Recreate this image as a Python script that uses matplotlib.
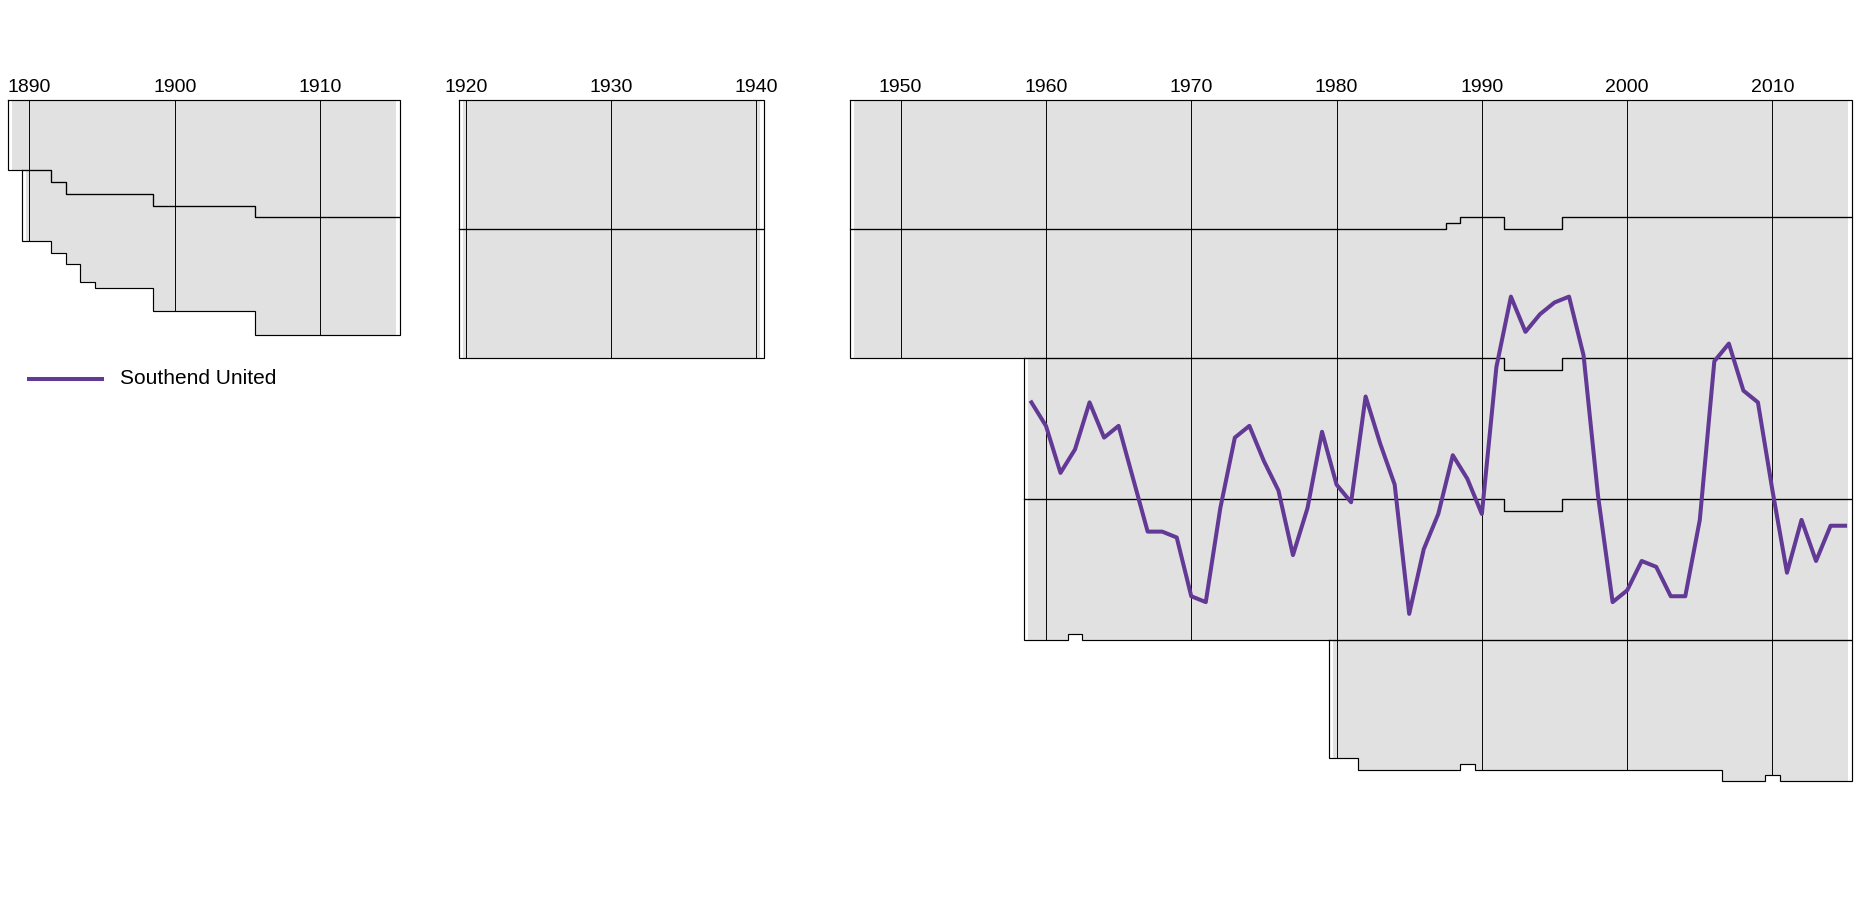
import matplotlib
matplotlib.use("Agg")
import matplotlib.pyplot as plt
from matplotlib.lines import Line2D

plt.rcParams['font.family'] = ['Liberation Sans', 'DejaVu Sans']

W, H = 1864, 901
DPI = 100

# ---------------- data ----------------
# Division sizes as runs: (first season-end year, last season-end year, clubs)
P1_DIV1 = [(1889, 1891, 12), (1892, 1892, 14), (1893, 1898, 16), (1899, 1905, 18), (1906, 1915, 20)]
P1_DIV2 = [(1890, 1893, 12), (1894, 1894, 15), (1895, 1898, 16), (1899, 1905, 18), (1906, 1915, 20)]

P2_DIV1 = [(1920, 1940, 22)]
P2_DIV2 = [(1920, 1940, 22)]

P3_DIV1 = [(1947, 1987, 22), (1988, 1988, 21), (1989, 1991, 20), (1992, 1995, 22), (1996, 2015, 20)]
P3_DIV2 = [(1947, 1987, 22), (1988, 1988, 23), (1989, 2015, 24)]
P3_DIV3 = [(1959, 2015, 24)]
P3_DIV4 = [(1959, 1961, 24), (1962, 1962, 23), (1963, 1991, 24), (1992, 1995, 22), (1996, 2015, 24)]
P3_CONF = [(1980, 1981, 20), (1982, 1988, 22), (1989, 1989, 21), (1990, 2006, 22),
           (2007, 2009, 24), (2010, 2010, 23), (2011, 2015, 24)]

P1_TICKS = [1890, 1900, 1910]
P2_TICKS = [1920, 1930, 1940]
P3_TICKS = [1950, 1960, 1970, 1980, 1990, 2000, 2010]

TEAM = "Southend United"
TEAM_YEARS = list(range(1959, 2016))
TEAM_POS = [52, 56, 64, 60, 52, 58, 56, 65, 74, 74,
            75, 85, 86, 70, 58, 56, 62, 67, 78, 70,
            57, 66, 69, 51, 59, 66, 88, 77, 71, 61,
            65, 71, 46, 34, 40, 37, 35, 34, 44, 68,
            86, 84, 79, 80, 85, 85, 72, 45, 42, 50,
            52, 67, 81, 72, 79, 73, 73]

# ---------------- style ----------------
GRAY = '#E1E1E1'
PURPLE = '#633996'
LINE_LW = 0.85
FS_TICK = 14
FS_LEG = 15

# vertical mapping (pixels from top): position 0.5 at y=99.8 px, 5.875 px per position
PX_PER_POS = 5.875
TOP_PX = 99.8
Y_TOP = 0.5 - TOP_PX / PX_PER_POS
Y_BOT = 0.5 + (H - TOP_PX) / PX_PER_POS
PX_PER_YEAR = 14.53

fig = plt.figure(figsize=(W / DPI, H / DPI), dpi=DPI)
fig.patch.set_facecolor('white')


def expand(runs):
    d = {}
    for a, b, n in runs:
        for y in range(a, b + 1):
            d[y] = n
    return d


def step_arrays(yrs, tops, bots, pad):
    xs, ts, bs = [], [], []
    n = len(yrs)
    for i, y in enumerate(yrs):
        left = y - 0.5 if i > 0 else y - pad
        right = y + 0.5 if i < n - 1 else y + pad
        xs += [left, right]
        ts += [tops[i], tops[i]]
        bs += [bots[i], bots[i]]
    return xs, ts, bs


def make_panel(x0_px, yr0, yr1, divs, ticks):
    width_px = (yr1 - yr0) * PX_PER_YEAR
    ax = fig.add_axes([x0_px / W, 0, width_px / W, 1])
    ax.set_xlim(yr0, yr1)
    ax.set_ylim(Y_BOT, Y_TOP)
    ax.axis('off')
    dicts = [expand(r) for r in divs]

    def above(k, y):
        return sum(dicts[j].get(y, 0) for j in range(k))

    for k, d in enumerate(dicts):
        yrs = sorted(d)
        tops = [above(k, y) + 0.5 for y in yrs]
        bots = [above(k, y) + d[y] + 0.5 for y in yrs]
        # gray mass of club lines
        xs, ts, bs = step_arrays(yrs, tops, bots, 0.22)
        ax.fill_between(xs, ts, bs, color=GRAY, lw=0, zorder=1, clip_on=False)
        # outline
        xs, ts, bs = step_arrays(yrs, tops, bots, 0.5)
        px = xs + xs[::-1] + [xs[0]]
        py = ts + bs[::-1] + [ts[0]]
        ax.plot(px, py, color='black', lw=LINE_LW, zorder=3, clip_on=False,
                solid_joinstyle='miter')

    for t in ticks:
        total = sum(d.get(t, 0) for d in dicts)
        ax.plot([t, t], [0.5, total + 0.5], color='black', lw=LINE_LW * 0.8,
                zorder=3, clip_on=False)
        ax.text(t, -0.88, str(t), ha='center', va='baseline', fontsize=FS_TICK,
                color='black')
    return ax


ax1 = make_panel(7.7, 1888.5, 1915.5, [P1_DIV1, P1_DIV2], P1_TICKS)
ax2 = make_panel(458.5, 1919.5, 1940.5, [P2_DIV1, P2_DIV2], P2_TICKS)
ax3 = make_panel(849.8, 1946.5, 2015.5, [P3_DIV1, P3_DIV2, P3_DIV3, P3_DIV4, P3_CONF], P3_TICKS)

ax3.plot(TEAM_YEARS, TEAM_POS, color=PURPLE, lw=2.9, zorder=5, clip_on=False)

# legend
ly = 1 - 379 / H
fig.add_artist(Line2D([29 / W, 102 / W], [ly, ly], color=PURPLE, lw=2.9))
fig.text(120 / W, ly, TEAM, ha='left', va='center', fontsize=FS_LEG, color='black')

fig.savefig('out.png', dpi=DPI, facecolor='white')
